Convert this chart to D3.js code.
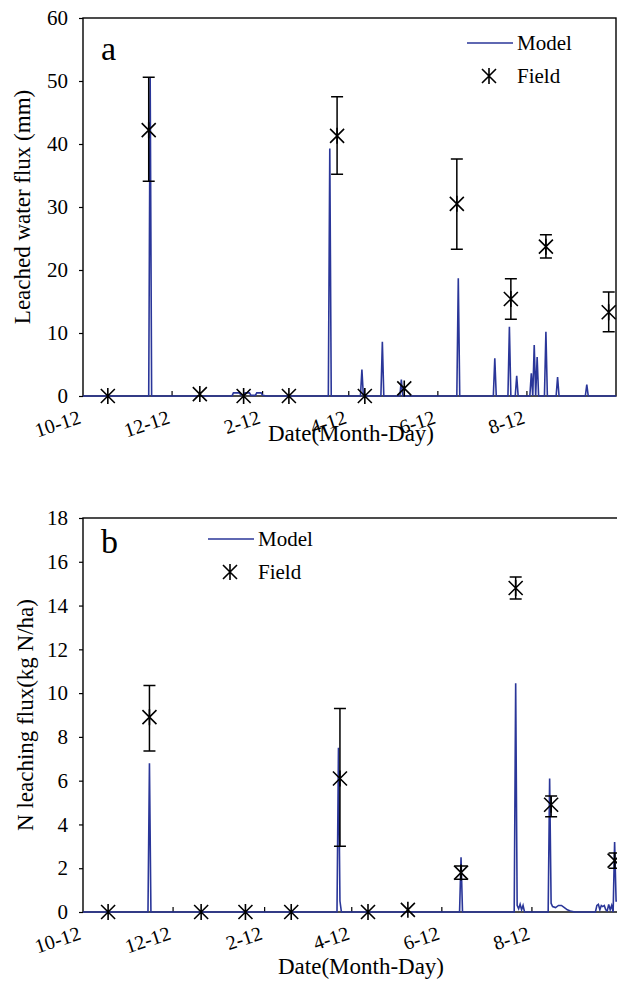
<!DOCTYPE html>
<html>
<head>
<meta charset="utf-8">
<script src="https://cdn.jsdelivr.net/npm/d3@7"></script>
</head>
<body style="margin:0; background:#fff">
<div id="chart"></div>
<script>
// ---------------------------------------------------------
// DATA (day = days since 10-12)
// ---------------------------------------------------------

var tickDays = [0, 61, 123, 182, 243, 304];
var tickLabels = ["10-12", "12-12", "2-12", "4-12", "6-12", "8-12"];

// field sampling days (shared by both panels)
var fieldDays = [17, 45, 80, 110, 141, 174, 193, 220, 256, 293, 317, 360];

// panel a: leached water flux (mm)
var fieldWater = [0, 42.2, 0.3, 0, 0, 41.3, 0, 1.2, 30.5, 15.4, 23.7, 13.3];
var fieldWaterHi = [null, 50.6, null, null, null, 47.5, null, null, 37.6, 18.6, 25.6, 16.5];
var fieldWaterLo = [null, 34.1, null, null, null, 35.2, null, null, 23.3, 12.2, 21.9, 10.2];

var modelWaterDays = [0, 45, 46, 47, 102, 103, 107, 108, 110, 111, 114, 115, 118, 119, 122, 123, 126,
  168, 169, 170, 190, 191, 192, 204, 205, 206, 217, 218, 219, 256, 257, 258,
  281, 282, 283, 291, 292, 293, 296, 297, 298, 306, 307, 308, 309, 310, 311, 312,
  316, 317, 318, 324, 325, 326, 344, 345, 346, 365];
var modelWater = [0, 0, 50.5, 0, 0, 0.5, 0.5, 0.2, 0.2, 0.5, 0.5, 0.1, 0.1, 0.5, 0.5, 0.1, 0,
  0, 39.3, 0, 0, 4.2, 0, 0, 8.6, 0, 0, 2.6, 0, 0, 18.7, 0,
  0, 6.0, 0, 0, 11.0, 0, 0, 3.2, 0, 0, 3.6, 0, 8.1, 0, 6.2, 0,
  0, 10.2, 0, 0, 3.0, 0, 0, 1.8, 0, 0];

// panel b: N leaching flux (kg N/ha)
var fieldN = [0, 8.9, 0, 0, 0, 6.1, 0, 0.1, 1.8, 14.8, 4.9, 2.35];
var fieldNHi = [null, 10.35, null, null, null, 9.3, null, null, 2.1, 15.3, 5.3, 2.7];
var fieldNLo = [null, 7.35, null, null, null, 3.0, null, null, 1.5, 14.3, 4.35, 2.0];

var modelNDays = [0, 44, 45, 46, 172, 173, 174, 175, 255, 256, 257,
  292, 293, 294, 295, 296, 297, 298, 299, 315, 316, 317, 318, 320, 322, 324, 326, 328, 330, 333,
  347, 348, 349, 350, 351, 352, 353, 354, 355, 356, 357, 358, 359, 360, 361, 362, 365];
var modelN = [0, 0, 6.8, 0, 0, 7.5, 0.5, 0, 0, 2.5, 0,
  0, 10.45, 0.3, 0.15, 0.35, 0.1, 0.3, 0, 0, 6.1, 0.4, 0.25, 0.2, 0.3, 0.3, 0.2, 0.1, 0.05, 0,
  0, 0.3, 0.35, 0.1, 0.3, 0.25, 0.3, 0.1, 0.05, 0.35, 0.1, 0.3, 0, 3.2, 0.5, 0.5, 0.5];

// ---------------------------------------------------------
// SET UP SVG
// ---------------------------------------------------------

var svgWidth = 617;
var svgHeight = 983;
var blue = "#2a3699";
var serif = '"Liberation Serif"';

var svg = d3.select("#chart")
  .append("svg")
  .attr("width", svgWidth)
  .attr("height", svgHeight);

var starPath = "M-7,-7L7,7M-7,7L7,-7M0,-8L0,8";

// helper for serif text
function addText(sel, size) {
  return sel.append("text")
    .style("font-family", serif)
    .style("font-size", size + "px")
    .attr("fill", "#000");
}

// draw one panel
function drawPanel(p) {
  var g = svg.append("g")
    .attr("transform", `translate(${p.left}, ${p.top})`);

  var xScale = d3.scaleLinear().domain([0, 365]).range([0, p.width]);
  var yScale = d3.scaleLinear().domain([0, p.yMax]).range([p.height, 0]);

  // y axis
  var leftAxis = d3.axisLeft(yScale)
    .tickValues(d3.range(0, p.yMax + 0.001, p.yStep))
    .tickSize(4)
    .tickPadding(11);
  var yAxis = g.append("g").call(leftAxis);
  yAxis.select(".domain").remove();
  yAxis.selectAll("line").attr("stroke", "#000").attr("stroke-width", 1.2);
  yAxis.selectAll("text")
    .style("font-family", serif)
    .style("font-size", "21px");

  // frame
  g.append("rect")
    .attr("width", p.width)
    .attr("height", p.height)
    .attr("fill", "none")
    .attr("stroke", "#000")
    .attr("stroke-width", 1.4);

  // inner x ticks
  g.selectAll(".xtick")
    .data(tickDays.slice(1))
    .enter()
    .append("line")
    .attr("x1", d => xScale(d))
    .attr("x2", d => xScale(d))
    .attr("y1", p.height)
    .attr("y2", p.height - 5)
    .attr("stroke", "#000")
    .attr("stroke-width", 1.2);

  // rotated x tick labels
  tickDays.forEach(function(d, i) {
    addText(g, 20)
      .attr("transform", `translate(${xScale(d) - 1}, ${p.height + 27}) rotate(-18)`)
      .attr("text-anchor", "end")
      .text(tickLabels[i]);
  });

  // model line
  var line = d3.line()
    .x(d => xScale(d[0]))
    .y(d => yScale(d[1]));

  g.append("path")
    .datum(p.modelDays.map((d, i) => [d, p.model[i]]))
    .attr("d", line)
    .attr("fill", "none")
    .attr("stroke", blue)
    .attr("stroke-width", 1.6);

  // error bars
  var errData = fieldDays.map((d, i) => ({ day: d, hi: p.hi[i], lo: p.lo[i] }))
    .filter(d => d.hi !== null);

  errData.forEach(function(d) {
    var x = xScale(d.day);
    g.append("path")
      .attr("d", `M${x},${yScale(d.lo)}L${x},${yScale(d.hi)}` +
        `M${x - 6},${yScale(d.hi)}L${x + 6},${yScale(d.hi)}` +
        `M${x - 6},${yScale(d.lo)}L${x + 6},${yScale(d.lo)}`)
      .attr("stroke", "#000")
      .attr("stroke-width", 1.5)
      .attr("fill", "none");
  });

  // field star markers
  g.selectAll(".star")
    .data(fieldDays)
    .enter()
    .append("path")
    .attr("transform", (d, i) => `translate(${xScale(d)}, ${yScale(p.field[i])})`)
    .attr("d", starPath)
    .attr("stroke", "#000")
    .attr("stroke-width", 1.6)
    .attr("fill", "none");

  // panel letter
  addText(g, 34)
    .attr("x", 18)
    .attr("y", p.letterY)
    .text(p.letter);

  // legend
  var lg = g.append("g")
    .attr("transform", `translate(${p.legendX}, ${p.legendY})`);
  lg.append("line")
    .attr("x1", 0).attr("x2", 46)
    .attr("y1", 0).attr("y2", 0)
    .attr("stroke", blue)
    .attr("stroke-width", 1.6);
  addText(lg, 21)
    .attr("x", 50).attr("y", 7)
    .text("Model");
  lg.append("path")
    .attr("transform", "translate(22, 33)")
    .attr("d", starPath)
    .attr("stroke", "#000")
    .attr("stroke-width", 1.6)
    .attr("fill", "none");
  addText(lg, 21)
    .attr("x", 50).attr("y", 40)
    .text("Field");

  // y axis title
  addText(g, 23)
    .attr("transform", `translate(${p.yTitleX}, ${p.height / 2}) rotate(-90)`)
    .attr("text-anchor", "middle")
    .attr("dy", "0.35em")
    .text(p.yTitle);

  // x axis title
  addText(g, 23)
    .attr("x", p.xTitleX)
    .attr("y", p.height + p.xTitleDy)
    .attr("text-anchor", "middle")
    .text("Date(Month-Day)");
}

drawPanel({
  left: 83, top: 18, width: 533, height: 378,
  yMax: 60, yStep: 10,
  model: modelWater, modelDays: modelWaterDays,
  field: fieldWater, hi: fieldWaterHi, lo: fieldWaterLo,
  letter: "a", letterY: 42,
  legendX: 384, legendY: 25,
  yTitle: "Leached water flux (mm)", yTitleX: -61,
  xTitleX: 268, xTitleDy: 45
});

drawPanel({
  left: 83, top: 518, width: 539, height: 394,
  yMax: 18, yStep: 2,
  model: modelN, modelDays: modelNDays,
  field: fieldN, hi: fieldNHi, lo: fieldNLo,
  letter: "b", letterY: 35,
  legendX: 125, legendY: 21,
  yTitle: "N leaching flux(kg N/ha)", yTitleX: -58,
  xTitleX: 278, xTitleDy: 62
});
</script>
</body>
</html>
